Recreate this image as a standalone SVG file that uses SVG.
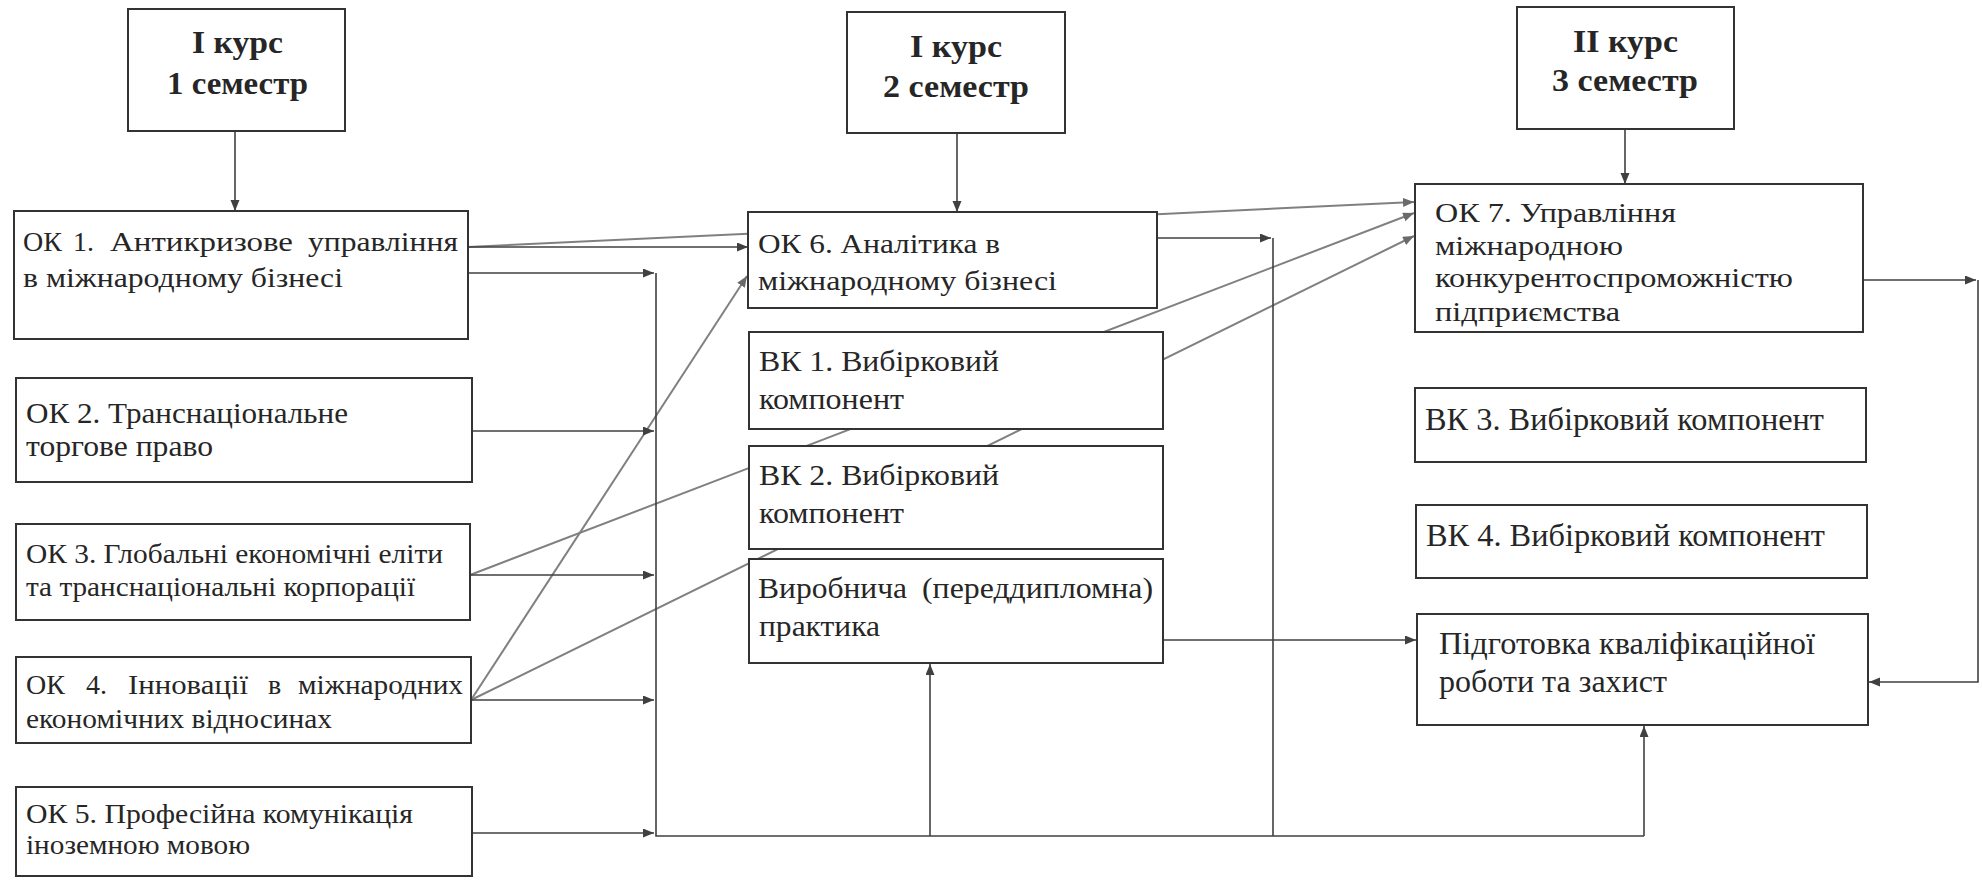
<svg xmlns="http://www.w3.org/2000/svg" width="1982" height="880" viewBox="0 0 1982 880" font-family="'Liberation Serif', 'DejaVu Serif', serif">
<defs>
<style>
.box{fill:#fff;stroke:#333;stroke-width:2}
.t{font-family:'Liberation Serif','DejaVu Serif',serif;fill:#262626}
.h{font-family:'Liberation Serif','DejaVu Serif',serif;font-weight:bold;font-size:32px;fill:#262626}
.ln{fill:none;stroke:#404040;stroke-width:1.6}
.dg{fill:none;stroke:#808080;stroke-width:2}
</style>
<marker id="ah" markerUnits="userSpaceOnUse" markerWidth="12" markerHeight="10" refX="11" refY="4.5" orient="auto">
<path d="M0,0 L11,4.5 L0,9 z" fill="#404040"/>
</marker>
<marker id="ahg" markerUnits="userSpaceOnUse" markerWidth="12" markerHeight="10" refX="11" refY="4.5" orient="auto">
<path d="M0,0 L11,4.5 L0,9 z" fill="#6a6a6a"/>
</marker>
</defs>
<rect width="1982" height="880" fill="#fff"/>

<g id="connectors">
<path class="dg" d="M468,247 L1414,202" marker-end="url(#ahg)"/>
<path class="dg" d="M470,575 L1414,213" marker-end="url(#ahg)"/>
<path class="dg" d="M471,700 L1414,236" marker-end="url(#ahg)"/>
<path class="dg" d="M471,700 L747,276" marker-end="url(#ahg)"/>
<path class="ln" d="M235,131 L235,211" marker-end="url(#ah)"/>
<path class="ln" d="M957,133 L957,212" marker-end="url(#ah)"/>
<path class="ln" d="M1625,129 L1625,184" marker-end="url(#ah)"/>
<path class="ln" d="M468,247 L748,247" marker-end="url(#ah)"/>
<path class="ln" d="M468,273 L654,273" marker-end="url(#ah)"/>
<path class="ln" d="M472,431 L654,431" marker-end="url(#ah)"/>
<path class="ln" d="M470,575 L654,575" marker-end="url(#ah)"/>
<path class="ln" d="M471,700 L654,700" marker-end="url(#ah)"/>
<path class="ln" d="M472,833 L654,833" marker-end="url(#ah)"/>
<path class="ln" d="M656,273 L656,836 L1644,836"/>
<path class="ln" d="M930,836 L930,664" marker-end="url(#ah)"/>
<path class="ln" d="M1644,836 L1644,726" marker-end="url(#ah)"/>
<path class="ln" d="M1157,238 L1271,238" marker-end="url(#ah)"/>
<path class="ln" d="M1273,238 L1273,836"/>
<path class="ln" d="M1163,640 L1416,640" marker-end="url(#ah)"/>
<path class="ln" d="M1863,280 L1976,280" marker-end="url(#ah)"/>
<path class="ln" d="M1978,280 L1978,682 L1869,682" marker-end="url(#ah)"/>
</g>

<g id="h1">
<rect class="box" x="128" y="9" width="217" height="122"/>
<text class="h" x="192" y="53" textLength="91" lengthAdjust="spacingAndGlyphs">I курс</text>
<text class="h" x="167" y="94" textLength="141" lengthAdjust="spacingAndGlyphs">1 семестр</text>
</g>
<g id="h2">
<rect class="box" x="847" y="12" width="218" height="121"/>
<text class="h" x="910" y="57" textLength="92" lengthAdjust="spacingAndGlyphs">I курс</text>
<text class="h" x="883" y="97" textLength="146" lengthAdjust="spacingAndGlyphs">2 семестр</text>
</g>
<g id="h3">
<rect class="box" x="1517" y="7" width="217" height="122"/>
<text class="h" x="1573" y="52" textLength="105" lengthAdjust="spacingAndGlyphs">II курс</text>
<text class="h" x="1552" y="91" textLength="146" lengthAdjust="spacingAndGlyphs">3 семестр</text>
</g>

<g id="ok1">
<rect class="box" x="14" y="211" width="454" height="128"/>
<text class="t" y="251" font-size="28"><tspan x="23">ОК</tspan><tspan x="73">1.</tspan><tspan x="110" textLength="183" lengthAdjust="spacingAndGlyphs">Антикризове</tspan><tspan x="308" textLength="150" lengthAdjust="spacingAndGlyphs">управління</tspan></text>
<text class="t" x="23" y="287" font-size="28" textLength="320" lengthAdjust="spacingAndGlyphs">в міжнародному бізнесі</text>
</g>
<g id="ok2">
<rect class="box" x="16" y="378" width="456" height="104"/>
<text class="t" x="26" y="423" font-size="30" textLength="322" lengthAdjust="spacingAndGlyphs">ОК 2. Транснаціональне</text>
<text class="t" x="26" y="456" font-size="30" textLength="187" lengthAdjust="spacingAndGlyphs">торгове право</text>
</g>
<g id="ok3">
<rect class="box" x="16" y="524" width="454" height="96"/>
<text class="t" x="26" y="563" font-size="28" textLength="417" lengthAdjust="spacingAndGlyphs">ОК 3. Глобальні економічні еліти</text>
<text class="t" x="26" y="596" font-size="28" textLength="389" lengthAdjust="spacingAndGlyphs">та транснаціональні корпорації</text>
</g>
<g id="ok4">
<rect class="box" x="16" y="657" width="455" height="86"/>
<text class="t" y="694" font-size="28"><tspan x="26">ОК</tspan><tspan x="86">4.</tspan><tspan x="128" textLength="120" lengthAdjust="spacingAndGlyphs">Інновації</tspan><tspan x="268">в</tspan><tspan x="298" textLength="165" lengthAdjust="spacingAndGlyphs">міжнародних</tspan></text>
<text class="t" x="26" y="728" font-size="28" textLength="306" lengthAdjust="spacingAndGlyphs">економічних відносинах</text>
</g>
<g id="ok5">
<rect class="box" x="16" y="787" width="456" height="89"/>
<text class="t" x="26" y="823" font-size="28" textLength="387" lengthAdjust="spacingAndGlyphs">ОК 5. Професійна комунікація</text>
<text class="t" x="26" y="854" font-size="28" textLength="224" lengthAdjust="spacingAndGlyphs">іноземною мовою</text>
</g>

<g id="ok6">
<rect class="box" x="748" y="212" width="409" height="96"/>
<text class="t" x="758" y="253" font-size="28" textLength="242" lengthAdjust="spacingAndGlyphs">ОК 6. Аналітика в</text>
<text class="t" x="758" y="290" font-size="28" textLength="299" lengthAdjust="spacingAndGlyphs">міжнародному бізнесі</text>
</g>
<g id="vk1">
<rect class="box" x="749" y="332" width="414" height="97"/>
<text class="t" x="759" y="371" font-size="29" textLength="240" lengthAdjust="spacingAndGlyphs">ВК 1. Вибірковий</text>
<text class="t" x="759" y="409" font-size="29" textLength="145" lengthAdjust="spacingAndGlyphs">компонент</text>
</g>
<g id="vk2">
<rect class="box" x="749" y="446" width="414" height="103"/>
<text class="t" x="759" y="485" font-size="29" textLength="240" lengthAdjust="spacingAndGlyphs">ВК 2. Вибірковий</text>
<text class="t" x="759" y="523" font-size="29" textLength="145" lengthAdjust="spacingAndGlyphs">компонент</text>
</g>
<g id="practice">
<rect class="box" x="749" y="559" width="414" height="104"/>
<text class="t" y="598" font-size="29"><tspan x="758" textLength="149" lengthAdjust="spacingAndGlyphs">Виробнича</tspan><tspan x="922" textLength="231" lengthAdjust="spacingAndGlyphs">(переддипломна)</tspan></text>
<text class="t" x="759" y="636" font-size="29" textLength="121" lengthAdjust="spacingAndGlyphs">практика</text>
</g>

<g id="ok7">
<rect class="box" x="1415" y="184" width="448" height="148"/>
<text class="t" x="1435" y="222" font-size="27" textLength="241" lengthAdjust="spacingAndGlyphs">ОК 7. Управління</text>
<text class="t" x="1435" y="255" font-size="27" textLength="188" lengthAdjust="spacingAndGlyphs">міжнародною</text>
<text class="t" x="1435" y="287" font-size="27" textLength="358" lengthAdjust="spacingAndGlyphs">конкурентоспроможністю</text>
<text class="t" x="1435" y="321" font-size="27" textLength="185" lengthAdjust="spacingAndGlyphs">підприємства</text>
</g>
<g id="vk3">
<rect class="box" x="1415" y="388" width="451" height="74"/>
<text class="t" x="1425" y="430" font-size="31" textLength="399" lengthAdjust="spacingAndGlyphs">ВК 3. Вибірковий компонент</text>
</g>
<g id="vk4">
<rect class="box" x="1416" y="505" width="451" height="73"/>
<text class="t" x="1426" y="546" font-size="31" textLength="399" lengthAdjust="spacingAndGlyphs">ВК 4. Вибірковий компонент</text>
</g>
<g id="thesis">
<rect class="box" x="1417" y="614" width="451" height="111"/>
<text class="t" x="1439" y="654" font-size="31" textLength="376" lengthAdjust="spacingAndGlyphs">Підготовка кваліфікаційної</text>
<text class="t" x="1439" y="692" font-size="31" textLength="228" lengthAdjust="spacingAndGlyphs">роботи та захист</text>
</g>
</svg>
